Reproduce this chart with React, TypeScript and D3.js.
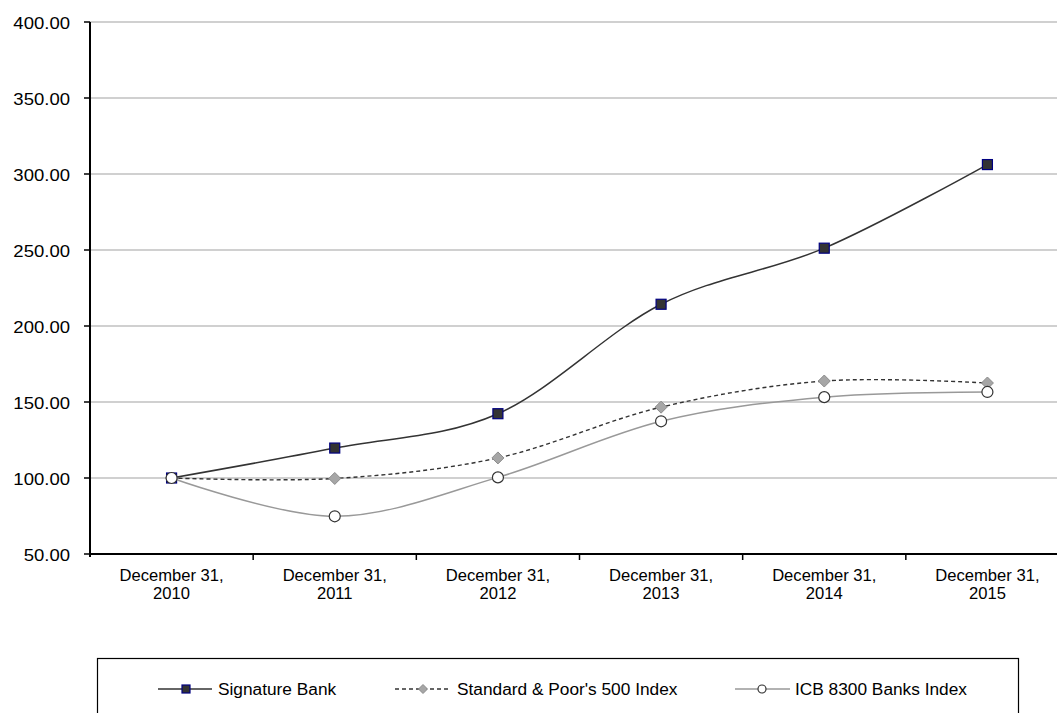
import React, { useEffect, useRef } from "react";
import * as d3 from "d3";

const categories = ["December 31, 2010", "December 31, 2011", "December 31, 2012", "December 31, 2013", "December 31, 2014", "December 31, 2015"];
const signatureBank = [100, 119.7, 142.3, 214.3, 251.2, 306.2];
const sp500 = [100, 99.7, 113.2, 146.6, 163.8, 162.5];
const icbBanks = [100, 74.8, 100.4, 137.3, 153.2, 156.6];
const yTicks = [50, 100, 150, 200, 250, 300, 350, 400];
const seriesNames = ["Signature Bank", "Standard & Poor's 500 Index", "ICB 8300 Banks Index"];

const W = 1057, H = 713;
const M = { left: 90, top: 22, bottom: 554, right: 1069 };
const FONT = "'Liberation Sans', Arial, sans-serif";

export default function App() {
  const ref = useRef<SVGSVGElement>(null);
  useEffect(() => {
    const svg = d3.select(ref.current);
    svg.selectAll("*").remove();
    const x = d3.scaleBand<string>().domain(categories).range([M.left, M.right]);
    const y = d3.scaleLinear().domain([50, 400]).range([M.bottom, M.top]);
    const cx = (c: string) => (x(c) as number) + x.bandwidth() / 2;

    // gridlines
    svg.append("g").selectAll("line").data(yTicks.filter(t => t > 50)).join("line")
      .attr("x1", M.left).attr("x2", M.right)
      .attr("y1", d => y(d)).attr("y2", d => y(d))
      .attr("stroke", "#c0c0c0").attr("stroke-width", 1.5);

    // y axis
    const ya = svg.append("g");
    ya.append("line").attr("x1", M.left).attr("x2", M.left).attr("y1", M.top).attr("y2", M.bottom + 3)
      .attr("stroke", "#000").attr("stroke-width", 2);
    ya.selectAll("line.t").data(yTicks).join("line").attr("class", "t")
      .attr("x1", M.left - 6).attr("x2", M.left).attr("y1", d => y(d)).attr("y2", d => y(d))
      .attr("stroke", "#000").attr("stroke-width", 1.5);
    ya.selectAll("text").data(yTicks).join("text")
      .attr("transform", d => `translate(70,${y(d) + 6.5}) scale(1.09,1)`)
      .attr("text-anchor", "end")
      .attr("font-family", FONT).attr("font-size", 17).attr("fill", "#000")
      .text(d => d3.format(".2f")(d));

    // x axis
    const xa = svg.append("g");
    xa.append("line").attr("x1", M.left - 1).attr("x2", M.right).attr("y1", M.bottom).attr("y2", M.bottom)
      .attr("stroke", "#000").attr("stroke-width", 2);
    xa.selectAll("line.t").data(categories.slice(1)).join("line").attr("class", "t")
      .attr("x1", d => x(d) as number).attr("x2", d => x(d) as number)
      .attr("y1", M.bottom).attr("y2", M.bottom + 6).attr("stroke", "#000").attr("stroke-width", 1.5);
    const lab = xa.selectAll("text").data(categories).join("text")
      .attr("text-anchor", "middle").attr("font-family", FONT).attr("font-size", 16.6).attr("fill", "#000");
    lab.append("tspan").attr("x", d => cx(d)).attr("y", 581).text(d => d.split(" ").slice(0, 2).join(" "));
    lab.append("tspan").attr("x", d => cx(d)).attr("y", 599).text(d => d.split(" ")[2]);

    const line = (vals: number[]) => d3.line<number>()
      .x((_, i) => cx(categories[i])).y(d => y(d))
      .curve(d3.curveCardinal.tension(0))(vals);

    const g = svg.append("g");
    // Signature
    g.append("path").attr("d", line(signatureBank)).attr("fill", "none").attr("stroke", "#333").attr("stroke-width", 1.5);
    g.selectAll("rect.s").data(signatureBank).join("rect").attr("class", "s")
      .attr("x", (_, i) => cx(categories[i]) - 5).attr("y", d => y(d) - 5).attr("width", 10).attr("height", 10)
      .attr("fill", "#333").attr("stroke", "#000080").attr("stroke-width", 1.2);
    // S&P
    g.append("path").attr("d", line(sp500)).attr("fill", "none").attr("stroke", "#333").attr("stroke-width", 1.4).attr("stroke-dasharray", "4,3");
    g.selectAll("path.d").data(sp500).join("path").attr("class", "d")
      .attr("d", (d, i) => { const px = cx(categories[i]), py = y(d); return `M${px},${py - 6}L${px + 6},${py}L${px},${py + 6}L${px - 6},${py}Z`; })
      .attr("fill", "#a6a6a6").attr("stroke", "#8c8c8c").attr("stroke-width", 1);
    // ICB
    g.append("path").attr("d", line(icbBanks)).attr("fill", "none").attr("stroke", "#999").attr("stroke-width", 1.5);
    g.selectAll("circle").data(icbBanks).join("circle")
      .attr("cx", (_, i) => cx(categories[i])).attr("cy", d => y(d)).attr("r", 5.5)
      .attr("fill", "#fff").attr("stroke", "#333").attr("stroke-width", 1.2);

    // legend
    const lg = svg.append("g");
    lg.append("rect").attr("x", 97.5).attr("y", 658.5).attr("width", 921).attr("height", 80)
      .attr("fill", "none").attr("stroke", "#000").attr("stroke-width", 1.2);
    const ly = 689;
    const LFS = 17.3;
    // item 1
    lg.append("line").attr("x1", 158).attr("x2", 212).attr("y1", ly).attr("y2", ly).attr("stroke", "#333").attr("stroke-width", 1.5);
    lg.append("rect").attr("x", 182).attr("y", ly - 4).attr("width", 8).attr("height", 8).attr("fill", "#333").attr("stroke", "#000080").attr("stroke-width", 1.2);
    lg.append("text").attr("x", 218).attr("y", ly + 6).attr("font-family", FONT).attr("font-size", LFS).text(seriesNames[0]);
    // item 2
    lg.append("line").attr("x1", 395).attr("x2", 451).attr("y1", ly).attr("y2", ly).attr("stroke", "#333").attr("stroke-width", 1.3).attr("stroke-dasharray", "4,3");
    lg.append("path").attr("d", `M423,${ly - 4.5}L427.5,${ly}L423,${ly + 4.5}L418.5,${ly}Z`).attr("fill", "#a6a6a6").attr("stroke", "#8c8c8c");
    lg.append("text").attr("x", 457).attr("y", ly + 6).attr("font-family", FONT).attr("font-size", LFS).text(seriesNames[1]);
    // item 3
    lg.append("line").attr("x1", 735).attr("x2", 790).attr("y1", ly).attr("y2", ly).attr("stroke", "#999").attr("stroke-width", 1.5);
    lg.append("circle").attr("cx", 762).attr("cy", ly).attr("r", 4).attr("fill", "#fff").attr("stroke", "#333").attr("stroke-width", 1.2);
    lg.append("text").attr("x", 795).attr("y", ly + 6).attr("font-family", FONT).attr("font-size", LFS).text(seriesNames[2]);
  }, []);
  return (
    <svg ref={ref} width={W} height={H} style={{ position: "absolute", left: 0, top: 0, background: "#fff" }} />
  );
}
